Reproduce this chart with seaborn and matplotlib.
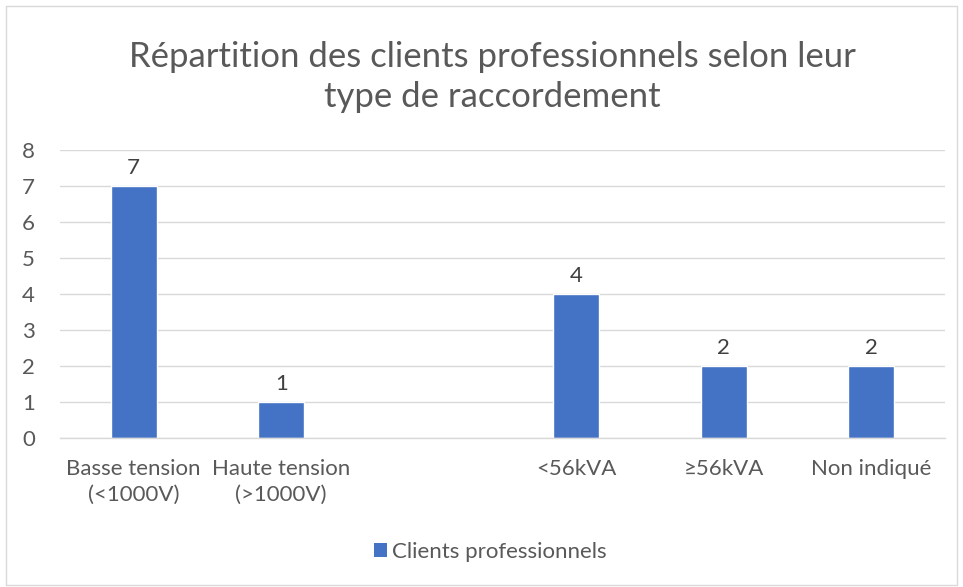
import matplotlib
matplotlib.use("Agg")
import matplotlib.pyplot as plt
import seaborn as sns
import pandas as pd
import numpy as np
from matplotlib.patches import Patch, Rectangle

categories = ["Basse tension\n(<1000V)", "Haute tension\n(>1000V)", " ", "<56kVA", "≥56kVA", "Non indiqué"]
values = [7, 1, np.nan, 4, 2, 2]
series_name = "Clients professionnels"
title = "Répartition des clients professionnels selon leur\ntype de raccordement"

sns.set_theme(style="white")
plt.rcParams['font.family'] = ['Lato', 'DejaVu Sans']

df = pd.DataFrame({"cat": categories, "val": values})

fig = plt.figure(figsize=(9.63, 5.87), dpi=100)
W, H = 963, 587
ax = fig.add_axes([60 / W, 1 - 438 / H, (945 - 60) / W, (438 - 150) / H])

sns.barplot(data=df, x="cat", y="val", order=categories, color="#4472C4",
            width=0.31, ax=ax, saturation=1)

ax.set_ylim(0, 8)
ax.set_yticks(range(0, 9))
ax.set_xlim(-0.5, len(categories) - 0.5)
ax.grid(axis="y", color="#D9D9D9", linewidth=1)
ax.set_axisbelow(True)
for s in ["top", "right", "left"]:
    ax.spines[s].set_visible(False)
ax.spines["bottom"].set_color("#D9D9D9")
ax.spines["bottom"].set_linewidth(1)
ax.set_xlabel("")
ax.set_ylabel("")
ax.tick_params(axis="both", length=0, labelsize=16, colors="#595959")
ax.tick_params(axis="y", pad=18)
ax.tick_params(axis="x", pad=15)
for lab in ax.get_xticklabels():
    lab.set_linespacing(1.4)

for i, v in enumerate(values):
    if np.isnan(v):
        continue
    ax.annotate(f"{int(v)}", (i, v), xytext=(0, 6), textcoords="offset points",
                ha="center", va="bottom", fontsize=16, color="#404040")

fig.text(492 / W, 1 - 77 / H, title, ha="center", va="center", fontsize=25,
         color="#595959", linespacing=1.32)

handle = Patch(facecolor="#4472C4", edgecolor="none")
fig.legend([handle], [series_name], loc="center", bbox_to_anchor=(490 / W, 1 - 552 / H),
           frameon=False, fontsize=16, handlelength=0.6, handleheight=0.6,
           handletextpad=0.2, labelcolor="#595959")

fig.patches.append(Rectangle((6 / W, 2 / H), (957 - 6) / W, (581 - 2) / H,
                             transform=fig.transFigure, fill=False,
                             edgecolor="#D9D9D9", linewidth=1))

fig.savefig("out.png", dpi=100)
